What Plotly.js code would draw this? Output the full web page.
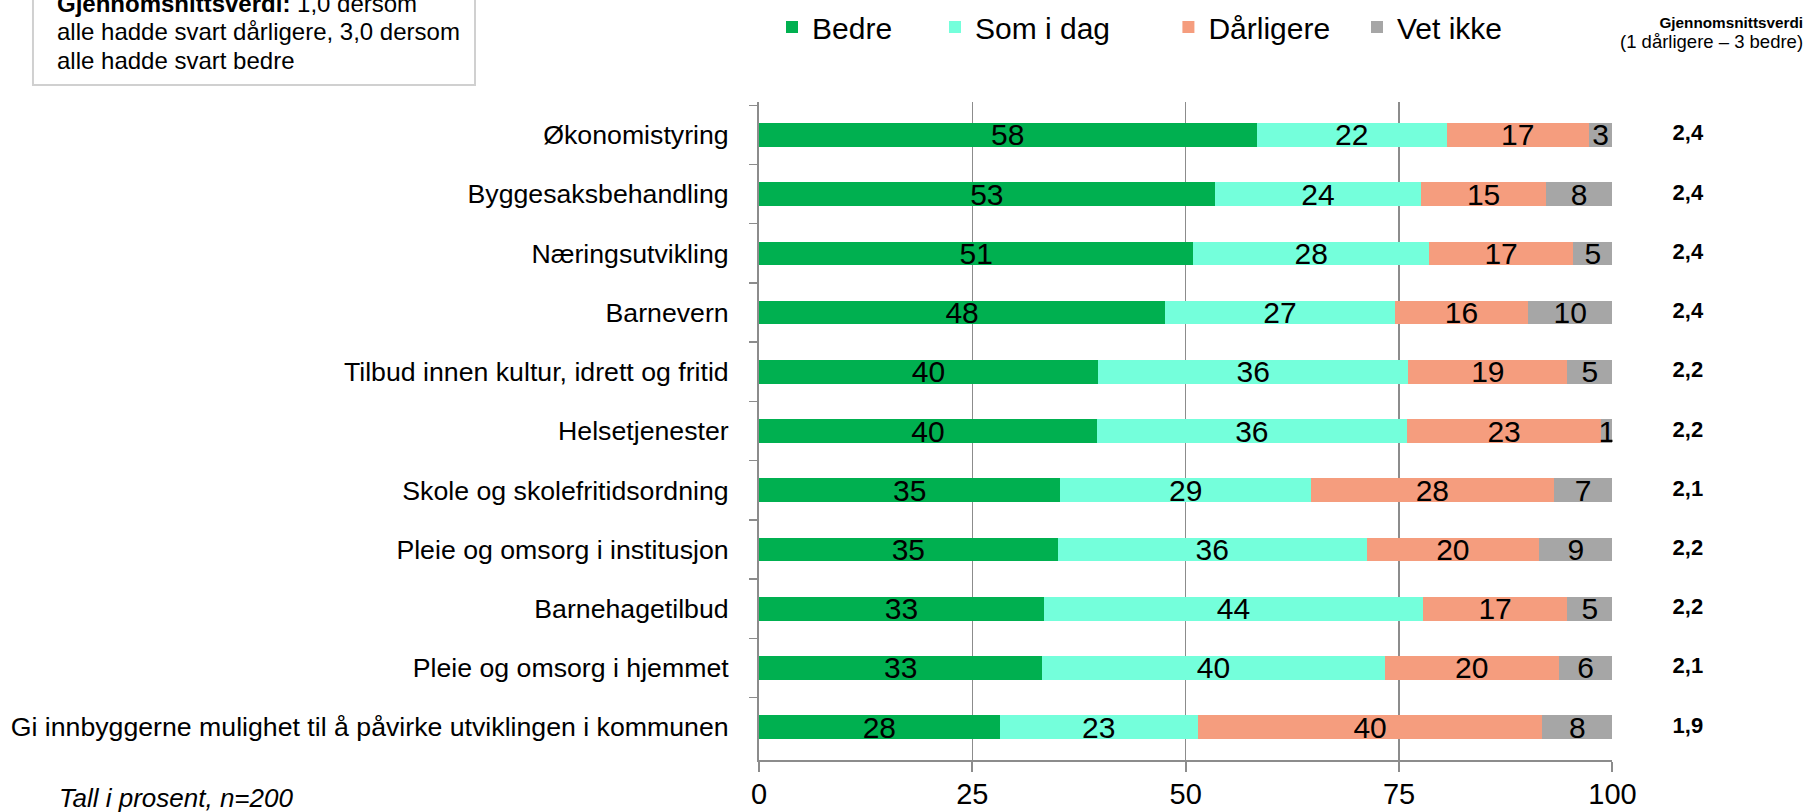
<!DOCTYPE html>
<html>
<head>
<meta charset="utf-8">
<script src="https://cdn.plot.ly/plotly-3.0.1.min.js"></script>
<style>
  html, body { margin: 0; padding: 0; background: #fff; }
  #chart { width: 1808px; height: 812px; }
</style>
</head>
<body>
<div id="chart"></div>
<script>
var categories = [
  'Økonomistyring',
  'Byggesaksbehandling',
  'Næringsutvikling',
  'Barnevern',
  'Tilbud innen kultur, idrett og fritid',
  'Helsetjenester',
  'Skole og skolefritidsordning',
  'Pleie og omsorg i institusjon',
  'Barnehagetilbud',
  'Pleie og omsorg i hjemmet',
  'Gi innbyggerne mulighet til å påvirke utviklingen i kommunen'
];

var bedre     = [58.3, 53.4, 50.9, 47.6, 39.7, 39.6, 35.3, 35.0, 33.4, 33.2, 28.2];
var somIDag   = [22.3, 24.2, 27.6, 26.9, 36.4, 36.3, 29.4, 36.2, 44.4, 40.1, 23.2];
var darligere = [16.6, 14.6, 16.9, 15.6, 18.6, 22.8, 28.4, 20.2, 16.9, 20.4, 40.4];
var vetIkke   = [2.8, 7.8, 4.6, 9.9, 5.3, 1.3, 6.9, 8.6, 5.3, 6.3, 8.2];

var snitt = [2.4, 2.4, 2.4, 2.4, 2.2, 2.2, 2.1, 2.2, 2.2, 2.1, 1.9];

var xTicks = [0, 25, 50, 75, 100];

var boxLines = [
  '<b>Gjennomsnittsverdi:</b> 1,0 dersom',
  'alle hadde svart dårligere, 3,0 dersom',
  'alle hadde svart bedre'
];

var FONT = 'Liberation Sans, Arial, sans-serif';

// each series gets its own legend box so the spacing can follow the original
function barTrace(name, values, color, legendId) {
  return {
    type: 'bar',
    orientation: 'h',
    name: name,
    legend: legendId,
    y: categories,
    x: values,
    marker: { color: color, line: { width: 0 } },
    texttemplate: '%{x:.0f}',
    textposition: 'inside',
    insidetextanchor: 'middle',
    constraintext: 'none',
    textangle: 0,
    textfont: { family: FONT, size: 30, color: '#000' },
    hoverinfo: 'skip'
  };
}

var data = [
  barTrace('Bedre', bedre, 'rgb(0,176,80)', 'legend'),
  barTrace('Som i dag', somIDag, 'rgb(116,255,219)', 'legend2'),
  barTrace('Dårligere', darligere, 'rgb(245,157,126)', 'legend3'),
  barTrace('Vet ikke', vetIkke, 'rgb(166,166,166)', 'legend4'),
  {
    type: 'scatter',
    mode: 'text',
    x: categories.map(function () { return 0; }),
    y: categories,
    xaxis: 'x2',
    text: snitt.map(function (v) { return v.toFixed(1).replace('.', ','); }),
    texttemplate: '<b>%{text}</b>',
    textposition: 'middle center',
    textfont: { family: FONT, size: 22, color: '#000' },
    showlegend: false,
    hoverinfo: 'skip'
  }
];

function legendAt(x) {
  return {
    orientation: 'h',
    x: x, xanchor: 'left',
    y: 1.114, yanchor: 'middle',
    bgcolor: 'rgba(0,0,0,0)',
    font: { family: FONT, size: 30, color: '#000' }
  };
}

var annotations = boxLines.map(function (t, i) {
  return {
    xref: 'paper', yref: 'paper',
    x: -0.703, y: 1.149 - i * 0.0426,
    xanchor: 'left', yanchor: 'middle',
    text: t, showarrow: false, align: 'left',
    font: { family: FONT, size: 24, color: '#000' }
  };
});
annotations.push({
  xref: 'paper', yref: 'paper',
  x: 1.045, y: 1.105,
  xanchor: 'right', yanchor: 'middle',
  text: '<b>Gjennomsnittsverdi</b><br><span style="font-size:18.5px">(1 dårligere – 3 bedre)</span>',
  showarrow: false, align: 'right',
  font: { family: FONT, size: 15.3, color: '#000' }
});
annotations.push({
  xref: 'paper', yref: 'paper',
  x: -0.7013, y: -0.058,
  xanchor: 'left', yanchor: 'middle',
  text: '<i>Tall i prosent, n=200</i>',
  showarrow: false,
  font: { family: FONT, size: 26, color: '#000' }
});

var layout = {
  width: 1808,
  height: 812,
  margin: { l: 759, r: 48, t: 102, b: 52, autoexpand: false },
  paper_bgcolor: '#fff',
  plot_bgcolor: 'rgba(0,0,0,0)',
  barmode: 'stack',
  bargap: 0.6,
  showlegend: true,
  legend: legendAt(0.013),
  legend2: legendAt(0.1758),
  legend3: legendAt(0.409),
  legend4: legendAt(0.5974),
  xaxis: {
    domain: [0, 0.8526],
    range: [0, 100],
    tickvals: xTicks,
    ticktext: xTicks.map(String),
    showgrid: true,
    gridcolor: '#8c8c8c',
    gridwidth: 1.3,
    zeroline: false,
    showline: true,
    linecolor: '#8c8c8c',
    linewidth: 2,
    ticks: 'outside',
    ticklen: 10,
    tickwidth: 2,
    tickcolor: '#8c8c8c',
    ticklabelstandoff: -3,
    tickfont: { family: FONT, size: 29, color: '#000' },
    fixedrange: true
  },
  xaxis2: {
    domain: [0.856, 1],
    anchor: 'y',
    range: [-1, 1],
    visible: false,
    fixedrange: true
  },
  yaxis: {
    type: 'category',
    categoryorder: 'array',
    categoryarray: categories,
    autorange: 'reversed',
    showgrid: false,
    zeroline: false,
    showline: true,
    linecolor: '#8c8c8c',
    linewidth: 2,
    ticks: 'outside',
    tickson: 'boundaries',
    ticklen: 8,
    tickwidth: 1.5,
    tickcolor: '#8c8c8c',
    ticklabelstandoff: 23,
    tickfont: { family: FONT, size: 26.7, color: '#000' },
    fixedrange: true
  },
  shapes: [{
    type: 'rect',
    xref: 'paper', yref: 'paper',
    x0: -0.7253, x1: -0.2837,
    y0: 1.0258, y1: 1.17,
    line: { color: '#d0d0d0', width: 2 },
    fillcolor: 'rgba(0,0,0,0)',
    layer: 'below'
  }],
  annotations: annotations,
  hovermode: false
};

Plotly.newPlot('chart', data, layout, { displayModeBar: false, staticPlot: true });
</script>
</body>
</html>
